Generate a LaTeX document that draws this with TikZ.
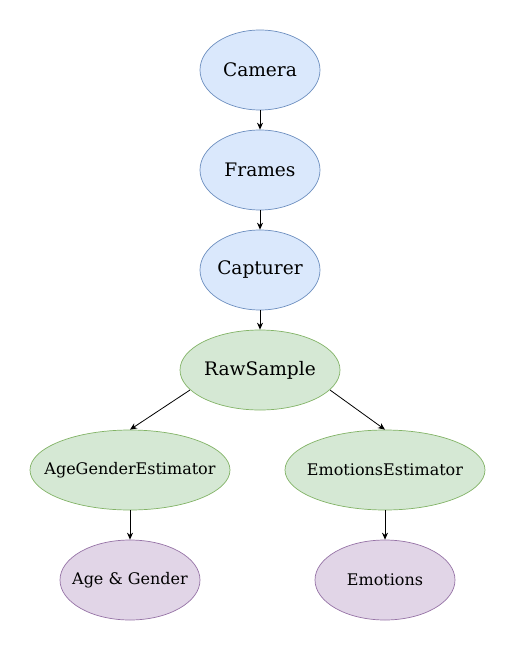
\documentclass[tikz,border=0pt]{standalone}
\usepackage{fontspec}
\setmainfont{DejaVu Serif}
\usetikzlibrary{shapes.geometric,arrows.meta}
\definecolor{bfill}{HTML}{DAE8FC}\definecolor{bdraw}{HTML}{6C8EBF}
\definecolor{gfill}{HTML}{D5E8D4}\definecolor{gdraw}{HTML}{82B366}
\definecolor{pfill}{HTML}{E1D5E7}\definecolor{pdraw}{HTML}{9673A6}
\tikzset{
  ell/.style={ellipse, inner sep=0pt, line width=0.7bp},
  big/.style={font=\fontsize{18.6bp}{22bp}\selectfont},
  small/.style={font=\fontsize{16bp}{19bp}\selectfont},
  blue/.style={ell, fill=bfill, draw=bdraw, minimum width=120bp, minimum height=80bp},
  green/.style={ell, fill=gfill, draw=gdraw, minimum height=80bp},
  purple/.style={ell, fill=pfill, draw=pdraw, minimum width=140bp, minimum height=80bp},
  arr/.style={-{Stealth[length=7bp,width=6bp]}, line width=0.8bp, black}
}
\begin{document}
\begin{tikzpicture}[x=1bp,y=-1bp]
\useasboundingbox (0,0) rectangle (516,651);
\node[blue, label={[big]center:Camera}] (cam) at (260,70) {};
\node[blue, label={[big]center:Frames}] (fr) at (260,170) {};
\node[blue, label={[big]center:Capturer}] (cap) at (260,270) {};
\node[green, minimum width=160bp, label={[big]center:RawSample}] (raw) at (260,370) {};
\node[green, minimum width=200bp, label={[small]center:AgeGenderEstimator}] (age) at (130,470) {};
\node[green, minimum width=200bp, label={[small]center:EmotionsEstimator}] (emo) at (385,470) {};
\node[purple, label={[small]center:Age \& Gender}] (ag) at (130,580) {};
\node[purple, label={[small]center:Emotions}] (em) at (385,580) {};
\coordinate (rl) at (190,390);
\coordinate (rr) at (330,390);
\draw[arr] (cam) -- (fr);
\draw[arr] (fr) -- (cap);
\draw[arr] (cap) -- (raw);
\draw[arr] (rl) -- (age.north);
\draw[arr] (rr) -- (emo.north);
\draw[arr] (age) -- (ag);
\draw[arr] (emo) -- (em);
\end{tikzpicture}
\end{document}
